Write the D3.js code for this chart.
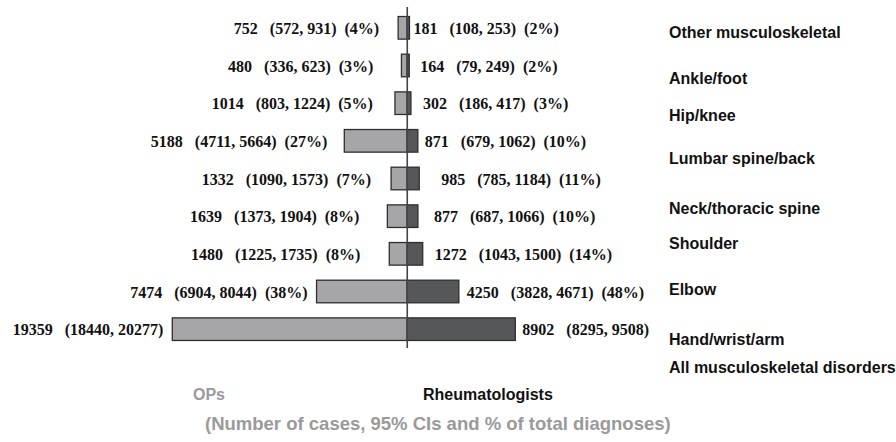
<!DOCTYPE html>
<html>
<head>
<meta charset="utf-8">
<script src="https://cdn.jsdelivr.net/npm/d3@7"></script>
<style>
    body { margin: 0; background: #fff; }
    .val { font-family: 'Liberation Serif', 'Times New Roman', serif; font-weight: bold; font-size: 16px; fill: #111; white-space: pre; }
    .cat { font-family: 'Liberation Sans', Arial, sans-serif; font-weight: bold; font-size: 16px; fill: #111; }
    .foot { font-family: 'Liberation Sans', Arial, sans-serif; font-weight: bold; }
</style>
</head>
<body>
<div id="vis"></div>
<script>
// categories, top to bottom
var categories = ['Other musculoskeletal', 'Ankle/foot', 'Hip/knee', 'Lumbar spine/back',
    'Neck/thoracic spine', 'Shoulder', 'Elbow', 'Hand/wrist/arm', 'All musculoskeletal disorders'];

// OPs: cases, 95% CI, % of total
var opCases = [752, 480, 1014, 5188, 1332, 1639, 1480, 7474, 19359];
var opLow   = [572, 336, 803, 4711, 1090, 1373, 1225, 6904, 18440];
var opHigh  = [931, 623, 1224, 5664, 1573, 1904, 1735, 8044, 20277];
var opPct   = ['4%', '3%', '5%', '27%', '7%', '8%', '8%', '38%', null];

// Rheumatologists
var rhCases = [181, 164, 302, 871, 985, 877, 1272, 4250, 8902];
var rhLow   = [108, 79, 186, 679, 785, 687, 1043, 3828, 8295];
var rhHigh  = [253, 249, 417, 1062, 1184, 1066, 1500, 4671, 9508];
var rhPct   = ['2%', '2%', '3%', '10%', '11%', '10%', '14%', '48%', null];

// layout tweaks (the original labels don't sit evenly)
var leftGap  = [19, 28, 22, 17, 20, 28, 29, 9, 9];
var rightGap = [4, 11, 12, 7, 22, 16, 12, 8, 7];
var catNudge = [4, 12, 12, 17, 29, 27, 35, 47, 38];

var W = 896, H = 442;
var svg = d3.select('#vis').append('svg')
    .attr('width', W)
    .attr('height', H);

var rows = categories.map(function (c, i) {
    return { cat: c, op: opCases[i], opLo: opLow[i], opHi: opHigh[i], opP: opPct[i],
        rh: rhCases[i], rhLo: rhLow[i], rhHi: rhHigh[i], rhP: rhPct[i], i: i };
});

/* ****** Scales ****** */
var xScale = d3.scaleLinear()
    .domain([-d3.max(opCases), d3.max(rhCases)])
    .range([172.3, 515.3]);

var yScale = d3.scaleBand()
    .domain(categories)
    .range([9, 348])
    .paddingInner(0.4)
    .paddingOuter(0.2);

var x0 = xScale(0);

var label = function (n, lo, hi, p) {
    var s = n + '   (' + lo + ', ' + hi + ')';
    if (p) s += '  (' + p + ')';
    return s;
};

/* ****** Bars ****** */
var g = svg.append('g');

g.selectAll('rect.op').data(rows).enter()
    .append('rect')
    .attr('class', 'op')
    .attr('x', function (d) { return xScale(-d.op); })
    .attr('y', function (d) { return yScale(d.cat); })
    .attr('width', function (d) { return x0 - xScale(-d.op); })
    .attr('height', yScale.bandwidth())
    .attr('fill', '#a6a6a8')
    .attr('stroke', '#2e2e2e')
    .attr('stroke-width', 1.3);

g.selectAll('rect.rh').data(rows).enter()
    .append('rect')
    .attr('class', 'rh')
    .attr('x', x0)
    .attr('y', function (d) { return yScale(d.cat); })
    .attr('width', function (d) { return xScale(d.rh) - x0; })
    .attr('height', yScale.bandwidth())
    .attr('fill', '#565759')
    .attr('stroke', '#2e2e2e')
    .attr('stroke-width', 1.3);

// centre line
svg.append('line')
    .attr('x1', x0).attr('x2', x0)
    .attr('y1', 7).attr('y2', 348)
    .attr('stroke', '#444')
    .attr('stroke-width', 1.6);

/* ****** Value labels ****** */
g.selectAll('text.lv').data(rows).enter()
    .append('text')
    .attr('class', 'val')
    .attr('xml:space', 'preserve')
    .attr('text-anchor', 'end')
    .attr('x', function (d) { return xScale(-d.op) - leftGap[d.i]; })
    .attr('y', function (d) { return yScale(d.cat) + yScale.bandwidth() / 2 + 6; })
    .text(function (d) { return label(d.op, d.opLo, d.opHi, d.opP); });

g.selectAll('text.rv').data(rows).enter()
    .append('text')
    .attr('class', 'val')
    .attr('xml:space', 'preserve')
    .attr('x', function (d) { return xScale(d.rh) + rightGap[d.i]; })
    .attr('y', function (d) { return yScale(d.cat) + yScale.bandwidth() / 2 + 6; })
    .text(function (d) { return label(d.rh, d.rhLo, d.rhHi, d.rhP); });

/* ****** Category labels ****** */
g.selectAll('text.cat').data(rows).enter()
    .append('text')
    .attr('class', 'cat')
    .attr('x', 669)
    .attr('y', function (d) { return yScale(d.cat) + yScale.bandwidth() / 2 + catNudge[d.i] + 6; })
    .text(function (d) { return d.cat; });

/* ****** Legend / footer ****** */
svg.append('text')
    .attr('class', 'foot')
    .attr('x', 193).attr('y', 400)
    .style('font-size', '16px')
    .attr('fill', '#9a9a9a')
    .text('OPs');

svg.append('text')
    .attr('class', 'foot')
    .attr('x', 423).attr('y', 400)
    .style('font-size', '16px')
    .attr('fill', '#111')
    .text('Rheumatologists');

svg.append('text')
    .attr('class', 'foot')
    .attr('x', 205).attr('y', 430)
    .style('font-size', '18.5px')
    .attr('fill', '#9a9a9a')
    .text('(Number of cases, 95% CIs and % of total diagnoses)');
</script>
</body>
</html>
